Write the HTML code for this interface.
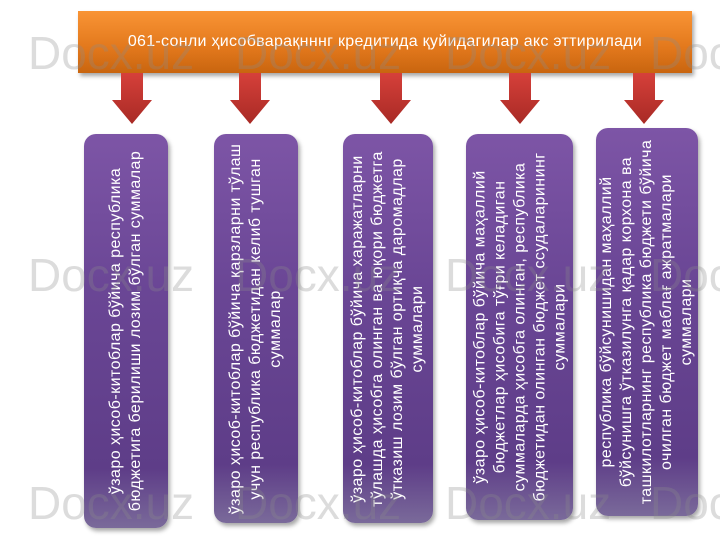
<!DOCTYPE html>
<html><head><meta charset="utf-8"><style>
body{margin:0;width:720px;height:540px;background:#fff;position:relative;overflow:hidden;font-family:"Liberation Sans","DejaVu Sans",sans-serif}
.hdr{position:absolute;left:78px;top:11px;width:614px;height:62px;background:linear-gradient(#f99435,#e2781c 60%,#c9650f);box-shadow:2px 3px 4px rgba(0,0,0,.35);color:#fff;font-size:16px;letter-spacing:0.3px;text-align:center;line-height:62px}
.arr{position:absolute;top:73px;width:40px;height:52px}
.box{position:absolute;border-radius:12px;background:linear-gradient(#7d55a6,#6a4695 40%,#5e3d88 85%,#7a6a9a);box-shadow:2px 3px 4px rgba(0,0,0,.35);overflow:hidden}
.in{position:absolute;left:50%;top:50%;transform:translate(-50%,-50%) rotate(-90deg);display:flex;align-items:center;justify-content:center;text-align:center;color:#fff;font-size:16px;letter-spacing:0.45px;line-height:20px;white-space:nowrap}
.wm{position:absolute;font-size:46px;color:rgba(140,140,140,.3);white-space:nowrap}
</style></head><body>
<div class="hdr">061-сонли ҳисобварақнннг кредитида қуйидагилар акс эттирилади</div>

<svg class="arr" style="left:112px" viewBox="0 0 40 52"><defs><linearGradient id="g" x1="0" y1="0" x2="0" y2="1"><stop offset="0" stop-color="#d6403a"/><stop offset="1" stop-color="#a82a25"/></linearGradient></defs><polygon points="9,0 31,0 31,27 40,27 20,51 0,27 9,27" fill="url(#g)"/></svg>
<svg class="arr" style="left:230px" viewBox="0 0 40 52"><polygon points="9,0 31,0 31,27 40,27 20,51 0,27 9,27" fill="url(#g)"/></svg>
<svg class="arr" style="left:371px" viewBox="0 0 40 52"><polygon points="9,0 31,0 31,27 40,27 20,51 0,27 9,27" fill="url(#g)"/></svg>
<svg class="arr" style="left:500px" viewBox="0 0 40 52"><polygon points="9,0 31,0 31,27 40,27 20,51 0,27 9,27" fill="url(#g)"/></svg>
<svg class="arr" style="left:624px" viewBox="0 0 40 52"><polygon points="9,0 31,0 31,27 40,27 20,51 0,27 9,27" fill="url(#g)"/></svg>

<div class="box" style="left:84px;top:134px;width:84px;height:394px"><div class="in" style="width:394px;height:84px">ўзаро ҳисоб-китоблар бўйича республика<br>бюджетига берилиши лозим бўлган суммалар</div></div>
<div class="box" style="left:214px;top:134px;width:84px;height:389px"><div class="in" style="width:389px;height:84px">ўзаро ҳисоб-китоблар бўйича қарзларни тўлаш<br>учун республика бюджетидан келиб тушган<br>суммалар</div></div>
<div class="box" style="left:343px;top:134px;width:90px;height:389px"><div class="in" style="width:389px;height:90px">ўзаро ҳисоб-китоблар бўйича харажатларни<br>тўлашда ҳисобга олинган ва юқори бюджетга<br>ўтказиш лозим бўлган ортиқча даромадлар<br>суммалари</div></div>
<div class="box" style="left:466px;top:134px;width:107px;height:386px"><div class="in" style="width:386px;height:107px">ўзаро ҳисоб-китоблар бўйича маҳаллий<br>бюджетлар ҳисобига тўғри келадиган<br>суммаларда ҳисобга олинган, республика<br>бюджетидан олинган бюджет ссудаларининг<br>суммалари</div></div>
<div class="box" style="left:596px;top:128px;width:102px;height:388px"><div class="in" style="width:388px;height:102px">республика бўйсунишидан маҳаллий<br>бўйсунишга ўтказилунга қадар корхона ва<br>ташкилотларнинг республика бюджети бўйича<br>очилган бюджет маблағ ажратмалари<br>суммалари</div></div>

<div class="wm" style="left:28px;top:26px">Docx.uz</div>
<div class="wm" style="left:235px;top:26px">Docx.uz</div>
<div class="wm" style="left:445px;top:26px">Docx.uz</div>
<div class="wm" style="left:650px;top:26px">Docx.uz</div>
<div class="wm" style="left:28px;top:248px">Docx.uz</div>
<div class="wm" style="left:235px;top:248px">Docx.uz</div>
<div class="wm" style="left:445px;top:248px">Docx.uz</div>
<div class="wm" style="left:650px;top:248px">Docx.uz</div>
<div class="wm" style="left:28px;top:476px">Docx.uz</div>
<div class="wm" style="left:235px;top:476px">Docx.uz</div>
<div class="wm" style="left:445px;top:476px">Docx.uz</div>
<div class="wm" style="left:650px;top:476px">Docx.uz</div>
</body></html>
